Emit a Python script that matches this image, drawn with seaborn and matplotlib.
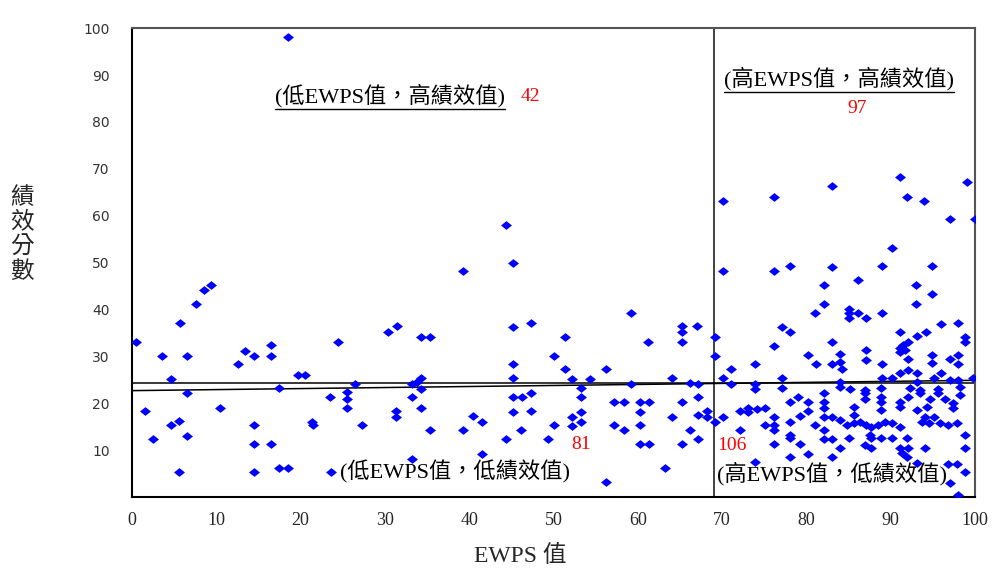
import matplotlib
matplotlib.use('Agg')
import matplotlib.pyplot as plt
import pandas as pd
import seaborn as sns

# (EWPS value, performance score) pairs
left_points = [
    (0.5, 33.0), (3.6, 30.1), (5.7, 37.2), (6.5, 30.1), (4.6, 25.2), (7.6, 41.2), (8.6, 44.1),
    (9.4, 45.3), (12.6, 28.3), (13.4, 31.2), (14.5, 30.1), (16.5, 32.4), (16.5, 30.1), (18.5, 98.1),
    (6.5, 22.2), (1.6, 18.3), (4.6, 15.4), (5.6, 16.2), (2.5, 12.4), (6.5, 13.1), (10.5, 19.1),
    (14.5, 15.4), (14.5, 11.3), (16.5, 11.3), (5.6, 5.3), (14.5, 5.3), (17.4, 6.1), (18.5, 6.1),
    (19.7, 26.0), (20.5, 26.0), (17.4, 23.2), (24.4, 33.0), (30.4, 35.3), (31.4, 36.5), (26.5, 24.2),
    (23.5, 21.3), (25.5, 22.5), (25.5, 21.0), (25.5, 19.0), (21.3, 16.1), (21.5, 15.4), (27.3, 15.4),
    (31.3, 18.3), (31.3, 17.1), (33.2, 24.2), (33.2, 21.3), (23.6, 5.4), (33.2, 8.2),
    (44.4, 58.1), (45.2, 50.0), (39.3, 48.2), (34.3, 34.2), (35.3, 34.2), (45.2, 36.3), (47.3, 37.2),
    (50.0, 30.1), (45.2, 28.3), (45.2, 25.3), (34.3, 25.3), (33.8, 24.6), (34.3, 23.0), (34.3, 19.1),
    (35.3, 14.3), (39.3, 14.3), (40.4, 17.3), (41.5, 16.1), (44.4, 12.3), (45.2, 21.3), (46.3, 21.3),
    (47.3, 22.3), (45.2, 18.2), (47.3, 18.3), (46.2, 14.3), (50.0, 15.4), (49.3, 12.4), (41.5, 9.1),
    (59.2, 39.3), (51.4, 34.1), (51.4, 27.3), (52.2, 25.2), (54.3, 25.2), (56.2, 27.3), (61.2, 33.1),
    (65.2, 36.5), (65.2, 35.3), (65.2, 33.1), (67.0, 36.4), (59.2, 24.2), (64.1, 25.3), (66.2, 24.4),
    (53.3, 23.2), (53.3, 21.3), (53.3, 18.2), (52.2, 17.1), (53.3, 16.1), (52.2, 15.2), (57.2, 20.2),
    (58.3, 20.2), (60.3, 20.2), (61.3, 20.2), (60.3, 18.2), (57.2, 15.4), (58.3, 14.3), (60.3, 15.4),
    (60.3, 11.3), (61.3, 11.3), (64.1, 17.1), (65.2, 20.2), (66.2, 14.3), (65.2, 11.3), (63.2, 6.1),
    (56.2, 3.3), (67.1, 24.2), (67.1, 21.3), (67.1, 17.5), (68.2, 18.3), (68.2, 17.1), (67.1, 12.3),
]

right_high_points = [
    (69.2, 34.2), (69.2, 30.1), (70.1, 63.2), (70.1, 48.2), (76.1, 64.0), (76.1, 48.2), (78.1, 49.3),
    (83.0, 66.3), (83.0, 49.1), (82.1, 45.2), (82.1, 41.2), (81.0, 39.3), (77.1, 36.3), (78.1, 35.3),
    (76.1, 32.2), (71.1, 27.3), (73.9, 28.3), (80.2, 30.3), (81.1, 28.3), (83.0, 33.0), (83.0, 28.3),
    (70.1, 25.3), (77.1, 25.4),
    (91.1, 68.2), (91.9, 64.0), (94.0, 63.2), (99.0, 67.2), (97.0, 59.2), (100.0, 59.2), (90.1, 53.2),
    (89.0, 49.3), (94.9, 49.3), (86.1, 46.3), (93.0, 45.2), (94.9, 43.3), (93.0, 41.1),
    (85.0, 40.2), (85.0, 39.2), (85.0, 38.1), (86.1, 39.2), (87.1, 38.2), (89.0, 39.2), (95.9, 37.0),
    (98.0, 37.2), (94.2, 35.3), (93.1, 34.3), (91.1, 35.3),
    (92.0, 33.1), (91.5, 32.4), (91.1, 31.7), (91.7, 31.3), (91.1, 31.0),
    (98.8, 34.2), (98.8, 33.1), (87.1, 31.3), (87.1, 29.2), (84.0, 30.6), (84.0, 28.8), (84.2, 27.4),
    (92.0, 29.4), (89.0, 28.3), (94.9, 30.3), (94.9, 28.5), (97.0, 29.4), (98.0, 30.3), (98.0, 28.4),
    (92.0, 27.1), (91.1, 26.4), (93.1, 26.4), (96.0, 26.4), (89.0, 25.3), (90.1, 25.3), (95.1, 25.3),
    (97.0, 24.9), (98.0, 24.9), (99.8, 25.3), (84.0, 24.6), (93.1, 24.6),
]

right_low_points = [
    (71.1, 24.2), (77.1, 23.2), (73.9, 24.2), (73.9, 23.0), (69.2, 16.1), (70.1, 17.1), (72.1, 14.3),
    (72.1, 18.3), (73.1, 19.0), (73.1, 18.2), (74.1, 18.7), (75.1, 19.0), (75.1, 15.4), (76.1, 17.1),
    (76.1, 15.4), (76.1, 14.3), (76.1, 11.3), (73.9, 7.4), (78.1, 20.2), (78.1, 16.1), (78.1, 13.2),
    (78.1, 12.5), (79.0, 21.3), (79.2, 11.3), (78.1, 8.5), (80.2, 20.2), (80.2, 18.3), (79.2, 17.3),
    (81.0, 15.4), (80.2, 9.2), (82.1, 22.3), (82.1, 20.2), (82.1, 19.0), (82.1, 17.1), (82.1, 14.3),
    (82.1, 12.3), (83.0, 8.5), (83.0, 17.1), (83.0, 12.3),
    (84.0, 23.4), (85.2, 23.0), (87.0, 22.9), (88.8, 23.3), (92.3, 23.2), (93.5, 22.8), (95.6, 23.0),
    (98.2, 23.4), (87.0, 22.1), (87.0, 21.0), (88.9, 21.4), (88.9, 20.3), (91.1, 20.3), (92.1, 21.4),
    (93.5, 22.1), (94.7, 21.0), (95.6, 22.1), (96.4, 21.0), (97.4, 20.0), (98.2, 21.7),
    (85.6, 19.3), (88.9, 18.6), (91.1, 19.3), (93.1, 18.6), (94.3, 19.3), (97.4, 18.9), (85.6, 17.5),
    (94.1, 17.1), (95.1, 17.1),
    (84.0, 16.4), (84.8, 15.4), (85.6, 15.7), (86.4, 16.1), (87.1, 15.4), (87.7, 15.0), (88.5, 15.4),
    (89.3, 16.1), (90.1, 15.7), (91.1, 15.0), (93.7, 16.1), (94.5, 15.7), (95.8, 15.7), (96.8, 15.4),
    (97.8, 15.7),
    (98.8, 13.2), (87.5, 13.2), (87.7, 12.5), (88.9, 12.5), (90.1, 12.5), (91.9, 12.6), (85.1, 12.5),
    (87.0, 11.1), (87.7, 10.4), (84.0, 10.4), (91.1, 10.4), (92.1, 10.4), (94.1, 10.4), (98.8, 10.4),
    (91.3, 9.3), (91.9, 8.6), (93.1, 7.2), (96.8, 7.0), (97.8, 7.0), (98.8, 5.3), (97.0, 3.0),
    (98.0, 0.4),
]

ewps_cut = 69.0          # vertical split
perf_mean = 24.4         # horizontal split
fit_x = [0, 100]         # fitted trend line ends
fit_y = [22.7, 24.9]

# quadrant labels: (text, x, y, underlined), counts: (text, x, y)
quad_labels = [
    ('(低EWPS值，高績效值)', 17.0, 85.5, True),
    ('(高EWPS值，高績效值)', 70.2, 89.3, True),
    ('(低EWPS值，低績效值)', 24.7, 5.3, False),
    ('(高EWPS值，低績效值)', 69.4, 4.9, False),
]
quad_counts = [('42', 47.3, 85.5), ('97', 86.0, 82.9), ('81', 53.3, 11.3), ('106', 71.2, 10.9)]

x_ticks = list(range(0, 101, 10))
y_ticks = list(range(10, 101, 10))

df = pd.DataFrame(left_points + right_high_points + right_low_points, columns=['ewps', 'perf'])

sns.set_style('white')
plt.rcParams['font.family'] = ['Liberation Serif', 'Noto Sans CJK TC']

fig = plt.figure(figsize=(9.96, 5.74), dpi=100)
ax = fig.add_axes([0.1325, 0.134, 0.8465, 0.817])

diamond = [(-1, 0), (0, 0.8), (1, 0), (0, -0.8), (-1, 0)]
sns.scatterplot(data=df, x='ewps', y='perf', ax=ax, marker=diamond, s=62,
                color='#0000FF', edgecolor='#0000FF', linewidth=0, zorder=3)

ax.axvline(ewps_cut, color='#333333', lw=1.3, zorder=2)
ax.axhline(perf_mean, color='black', lw=1.1, zorder=2)
ax.plot(fit_x, fit_y, color='black', lw=1.1, zorder=2)

ax.set_xlim(0, 100)
ax.set_ylim(0, 100)
ax.set_xticks(x_ticks)
ax.set_xticks(list(range(5, 100, 10)), minor=True)
ax.set_yticks(y_ticks)
ax.set_xticklabels([str(t) for t in x_ticks], fontsize=13)
ax.set_yticklabels([str(t) for t in y_ticks], fontsize=10, family='DejaVu Sans', color='#333333')
ax.tick_params(axis='x', which='major', direction='out', length=5, width=2, pad=6)
ax.tick_params(axis='x', which='minor', direction='out', length=5, width=1)
ax.tick_params(axis='y', direction='out', length=5, width=1.5, pad=11)
ax.set_xlabel('')
ax.set_ylabel('')

for side in ['left', 'bottom']:
    ax.spines[side].set_color('black')
    ax.spines[side].set_linewidth(1.5)
for side in ['top', 'right']:
    ax.spines[side].set_color('#555555')
    ax.spines[side].set_linewidth(1.5)

fig.canvas.draw()
renderer = fig.canvas.get_renderer()
inv = ax.transData.inverted()
for text, x, y, underline in quad_labels:
    t = ax.text(x, y, text, fontsize=16, ha='left', va='center', color='black', zorder=5)
    if underline:
        bb = t.get_window_extent(renderer)
        (x0, y0), (x1, _) = inv.transform([(bb.x0, bb.y0), (bb.x1, bb.y0)])
        ax.plot([x0, x1], [y0 - 0.3, y0 - 0.3], color='black', lw=1, zorder=5)
for text, x, y in quad_counts:
    ax.text(x, y, text, fontsize=14, ha='center', va='center', color='red', zorder=5)

fig.text(0.522, 0.031, 'EWPS 值', fontsize=17, ha='center', va='center')
fig.text(0.022, 0.59, '績\n效\n分\n數', fontsize=17, ha='center', va='center', linespacing=1.15)

fig.savefig('out.png', dpi=100, facecolor='white')
